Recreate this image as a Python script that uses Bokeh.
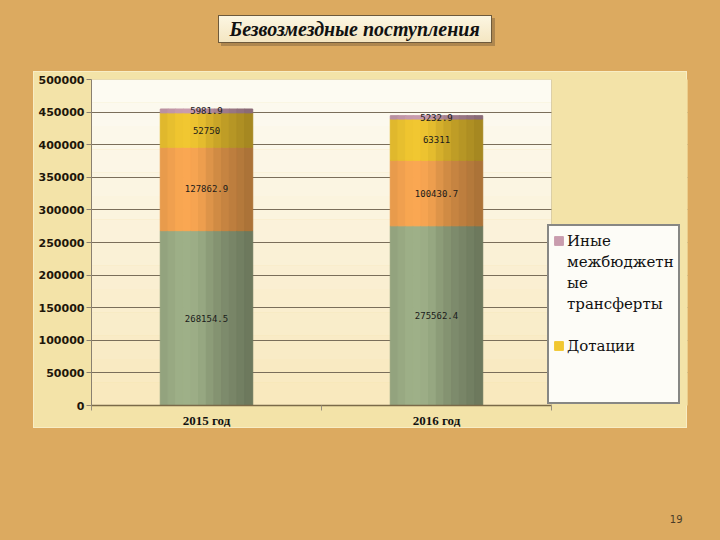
import math
from bokeh.plotting import figure
from bokeh.models import (ColumnDataSource, Range1d, FixedTicker,
                          BasicTickFormatter, BoxAnnotation, Legend, LegendItem, Title)
from bokeh.core.properties import value
from bokeh.transform import dodge
from bokeh.embed import file_html
from bokeh.resources import INLINE

# ---------------- data ----------------
years = ["2015 год", "2016 год"]
subventions = [268154.5, 275562.4]
subsidies = [127862.9, 100430.7]
dotations = [52750.0, 63311.0]
other_transfers = [5981.9, 5232.9]
y_ticks = [0, 50000, 100000, 150000, 200000, 250000, 300000, 350000, 400000, 450000, 500000]
title_text = "Безвозмездные поступления"
legend_other_lines = ["Иные", "межбюджетн", "ые", "трансферты"]
legend_dot = "Дотации"
page_number = "19"

PARCHMENT = "#dcaa60"
PANEL = "#f3e3a8"
W, H = 720, 540
FL, FR, FT, FB = 91, 687, 79, 405   # frame edges (px): plot area + legend column
PLOT_W = 460                         # width of the cream plot area inside the frame
UNIT = 230                           # px per category slot

xpos = [i + 0.5 for i in range(len(years))]        # category slot centres
xbounds = [float(i) for i in range(len(years) + 1)]  # category slot edges

p = figure(x_range=Range1d(0, (FR - FL) / UNIT), y_range=Range1d(0, 500000),
           width=W, height=H, output_backend="svg", toolbar_location=None,
           min_border_left=FL, min_border_right=W - FR,
           min_border_top=FT, min_border_bottom=H - FB,
           border_fill_color=PARCHMENT, border_fill_alpha=0.0,
           background_fill_color=PANEL, outline_line_color=None)

# spacer in the top panel so that the title sits inside its framed box
p.add_layout(Title(text=" ", text_font_size="10px", standoff=22), "above")
p.title.text = title_text
p.title.align = "left"
p.title.offset = 138
p.title.text_font = "Liberation Serif"
p.title.text_font_style = "bold italic"
p.title.text_font_size = "20px"
p.title.text_color = "#111111"
p.title.vertical_align = "middle"
p.title.standoff = 8

# cream plot area with a vertical gradient
NS = 14
FH = FB - FT
for i in range(NS):
    t = i / (NS - 1)
    r = int(253 + (249 - 253) * t)
    g = int(251 + (233 - 251) * t)
    b = int(242 + (190 - 242) * t)
    p.add_layout(BoxAnnotation(left=0, right=PLOT_W, top=FH * (1 - i / NS), bottom=FH * (1 - (i + 1) / NS),
                               left_units="screen", right_units="screen",
                               top_units="screen", bottom_units="screen",
                               fill_color=f"#{r:02x}{g:02x}{b:02x}", fill_alpha=1.0,
                               line_alpha=0, level="image"))

p.xgrid.visible = False
p.ygrid.ticker = FixedTicker(ticks=y_ticks)
p.ygrid.grid_line_color = "#7a6e5a"
p.ygrid.grid_line_width = 1

# panel colour to the right of the plot area (hides grid lines there)
p.add_layout(BoxAnnotation(left=PLOT_W, right=FR - FL, top=FH, bottom=0,
                           left_units="screen", right_units="screen",
                           top_units="screen", bottom_units="screen",
                           fill_color=PANEL, fill_alpha=1.0, line_alpha=0, level="glyph"))
# plot-area outline
p.add_layout(BoxAnnotation(left=0, right=PLOT_W, top=FH, bottom=0,
                           left_units="screen", right_units="screen",
                           top_units="screen", bottom_units="screen",
                           fill_alpha=0, line_color="#a09680", line_width=1, level="glyph"))

p.yaxis.ticker = FixedTicker(ticks=y_ticks)
p.yaxis.formatter = BasicTickFormatter(use_scientific=False)
p.yaxis.major_label_text_font = "DejaVu Sans"
p.yaxis.major_label_text_font_style = "bold"
p.yaxis.major_label_text_font_size = "11px"
p.yaxis.major_label_text_color = "#1e160a"
p.yaxis.axis_line_color = "#8a8070"
p.yaxis.major_tick_line_color = "#8a8070"
p.yaxis.major_tick_out = 5
p.yaxis.major_tick_in = 0
p.yaxis.minor_tick_line_color = None
p.yaxis.major_label_standoff = 2

p.xaxis.ticker = FixedTicker(ticks=xpos, minor_ticks=xbounds)
p.xaxis.major_label_overrides = {x: y for x, y in zip(xpos, years)}
p.xaxis.bounds = (0, len(years))
p.xaxis.major_label_text_font = "Liberation Serif"
p.xaxis.major_label_text_font_style = "bold"
p.xaxis.major_label_text_font_size = "13px"
p.xaxis.major_label_text_color = "#111111"
p.xaxis.axis_line_color = "#7a6a48"
p.xaxis.axis_line_width = 1.5
p.xaxis.major_tick_line_color = None
p.xaxis.major_tick_out = 0
p.xaxis.minor_tick_line_color = "#9a9080"
p.xaxis.minor_tick_out = 5
p.xaxis.minor_tick_in = 0
p.xaxis.major_label_standoff = 2

# bars with cylindrical shading
src = ColumnDataSource(dict(x=xpos, subventions=subventions, subsidies=subsidies,
                            dotations=dotations, other=other_transfers))
stackers = ["subventions", "subsidies", "dotations", "other"]
base_colors = [(0x8e, 0x9e, 0x7a), (0xe0, 0x96, 0x4a), (0xd8, 0xb2, 0x2c), (0xb4, 0x8c, 0x9c)]


def shade(t):
    return 1.0 + 0.12 * math.exp(-((t - 0.28) / 0.22) ** 2) - 0.25 * max(0.0, t - 0.45) / 0.55


def scale(c, f):
    return "#" + "".join(f"{max(0, min(255, int(v * f))):02x}" for v in c)


BAR_W = 0.40
NSL = 12
slices = []
for i in range(NSL):
    t = (i + 0.5) / NSL
    off = -BAR_W / 2 + (i + 0.5) * BAR_W / NSL
    cols = [scale(c, shade(t)) for c in base_colors]
    slices.append(p.vbar_stack(stackers, x=dodge("x", off), width=BAR_W / NSL * 1.06,
                               color=cols, source=src))


def fmt(v):
    s = f"{v:.1f}"
    return s[:-2] if s.endswith(".0") else s


lx, ly, lt = [], [], []
for k, xc in enumerate(xpos):
    base = 0.0
    for arr in (subventions, subsidies, dotations, other_transfers):
        v = arr[k]
        lx.append(xc)
        ly.append(base + v / 2)
        lt.append(fmt(v))
        base += v
p.text(x="x", y="y", text="t", source=ColumnDataSource(dict(x=lx, y=ly, t=lt)),
       text_font=value("DejaVu Sans Mono"), text_font_size="9px",
       text_align="center", text_baseline="middle", text_color="#1a1a1a")

# legend: only the first two entries fit in the original's box; the long
# label wraps onto four lines as in the original
ref = slices[3]
blank = p.vbar(x=[xpos[0]], top=[0], width=0.01, fill_alpha=0, line_alpha=0)
items = [LegendItem(label=legend_other_lines[0], renderers=[ref[3]])]
items += [LegendItem(label=s, renderers=[blank]) for s in legend_other_lines[1:]]
items += [LegendItem(label=" ", renderers=[blank]),
          LegendItem(label=legend_dot, renderers=[ref[2]]),
          LegendItem(label=" ", renderers=[blank]),
          LegendItem(label=" ", renderers=[blank])]
legend = Legend(items=items, location=(PLOT_W - 4, 1), orientation="vertical",
                label_text_font="DejaVu Serif", label_text_font_size="15px",
                label_text_color="#111111", label_height=21,
                glyph_width=11, glyph_height=11, label_standoff=3,
                padding=4, spacing=0, margin=0,
                border_line_color="#111111", border_line_width=2,
                background_fill_color="#fdfcf7", background_fill_alpha=1.0)
p.add_layout(legend)

# page number, pushed to the bottom of the page by a blank spacer
p.add_layout(Title(text=" ", text_font_size="10px", standoff=68), "below")
p.add_layout(Title(text=page_number, align="right", offset=5, vertical_align="middle",
                   text_font="DejaVu Sans", text_font_size="10px", text_font_style="normal",
                   text_color="#4a3c28", standoff=4), "below")

# page decoration behind the transparent canvas: parchment, chart panel, title box
def layer(color1, color2, x, y, w, h):
    return f"linear-gradient({color1}, {color2}) {x}px {y}px / {w}px {h}px no-repeat"


css_bg = ", ".join([
    layer("#fcf6e2", "#f4e6c2", 219, 16, 272, 26),
    layer("#6e5a3c", "#6e5a3c", 218, 15, 274, 28),
    layer("rgba(90,70,48,0.35)", "rgba(90,70,48,0.35)", 221, 18, 274, 28),
    layer(PANEL, PANEL, 34, 72, 652, 355),
    layer("#f8edc4", "#f8edc4", 33, 71, 654, 357),
    PARCHMENT,
])

html = file_html(p, INLINE)
html = html.replace("</head>", "<style>html { background: %s; } body { background: %s !important; }</style></head>"
                    % (PARCHMENT, css_bg), 1)
open("out.html", "w").write(html)
